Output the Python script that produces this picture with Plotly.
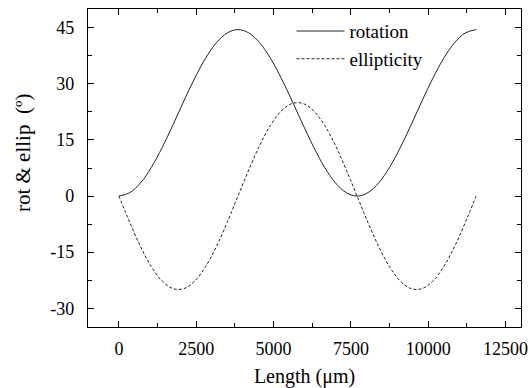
import plotly.graph_objects as go

length_um = [0, 350, 700, 1050, 1400, 1750, 2100, 2450, 2800, 3150, 3500, 3850,
             4200, 4550, 4900, 5250, 5600, 5950, 6300, 6650, 7000, 7350, 7700,
             8050, 8400, 8750, 9100, 9450, 9800, 10150, 10500, 10850, 11200, 11550]
rotation = [0, 0.90, 3.53, 7.68, 13.01, 19.08, 25.42, 31.49, 36.82, 40.97, 43.60, 44.5,
            43.60, 40.97, 36.82, 31.49, 25.42, 19.08, 13.01, 7.68, 3.53, 0.90, 0,
            0.90, 3.53, 7.68, 13.01, 19.08, 25.42, 31.49, 36.82, 40.97, 43.60, 44.5]
ellipticity = [0, -7.04, -13.52, -18.89, -22.74, -24.75, -24.75, -22.74, -18.89, -13.52, -7.04, 0,
               7.04, 13.52, 18.89, 22.74, 24.75, 24.75, 22.74, 18.89, 13.52, 7.04, 0,
               -7.04, -13.52, -18.89, -22.74, -24.75, -24.75, -22.74, -18.89, -13.52, -7.04, 0]
x_ticks = [0, 2500, 5000, 7500, 10000, 12500]
x_tick_labels = ["0", "2500", "5000", "7500", "10000", "12500"]
y_ticks = [-30, -15, 0, 15, 30, 45]
y_tick_labels = ["-30", "-15", "0", "15", "30", "45"]
x_title = "Length (μm)"
y_title = "rot &amp; ellip  (º)"

FONT = "Times New Roman, Liberation Serif, serif"

fig = go.Figure()
fig.add_trace(go.Scatter(x=length_um, y=rotation, mode="lines", name="rotation",
                         line=dict(color="#222", width=1, shape="spline")))
fig.add_trace(go.Scatter(x=length_um, y=ellipticity, mode="lines", name="ellipticity",
                         line=dict(color="#222", width=1, dash="3px,2px", shape="spline")))

axis_common = dict(
    showline=True, linecolor="black", linewidth=1.3, mirror="allticks",
    ticks="inside", ticklen=6, tickwidth=1, tickcolor="black",
    showgrid=False, zeroline=False, automargin=False,
    tickfont=dict(family=FONT, size=18, color="black"),
)
fig.update_xaxes(range=[-1000, 13000], tickmode="array", tickvals=x_ticks, ticktext=x_tick_labels,
                 minor=dict(ticks="inside", ticklen=4, dtick=1250, tick0=0, tickcolor="black", showgrid=False),
                 ticklabelstandoff=5,
                 title=dict(text=x_title, font=dict(family=FONT, size=20, color="black"), standoff=12),
                 **axis_common)
fig.update_yaxes(range=[-35, 50], tickmode="array", tickvals=y_ticks, ticktext=y_tick_labels,
                 minor=dict(ticks="inside", ticklen=4, dtick=7.5, tick0=0, tickcolor="black", showgrid=False),
                 ticklabelstandoff=9,
                 **axis_common)
fig.add_annotation(text=y_title, xref="paper", yref="paper", x=-0.15, y=0.547,
                   xanchor="center", yanchor="middle", textangle=-90, showarrow=False,
                   font=dict(family=FONT, size=21, color="black"))
fig.update_layout(
    width=530, height=388,
    margin=dict(l=88, r=9, t=9, b=61, autoexpand=False),
    paper_bgcolor="white", plot_bgcolor="white",
    font=dict(family=FONT, color="black"),
    showlegend=True,
    legend=dict(x=0.47, y=0.99, xanchor="left", yanchor="top", bgcolor="rgba(0,0,0,0)",
                itemwidth=48,
                font=dict(family=FONT, size=19, color="black"), tracegroupgap=0),
)
fig.write_html("out.html", config={"displayModeBar": False},
               post_script="document.body.style.margin='0';document.body.style.padding='0';")
